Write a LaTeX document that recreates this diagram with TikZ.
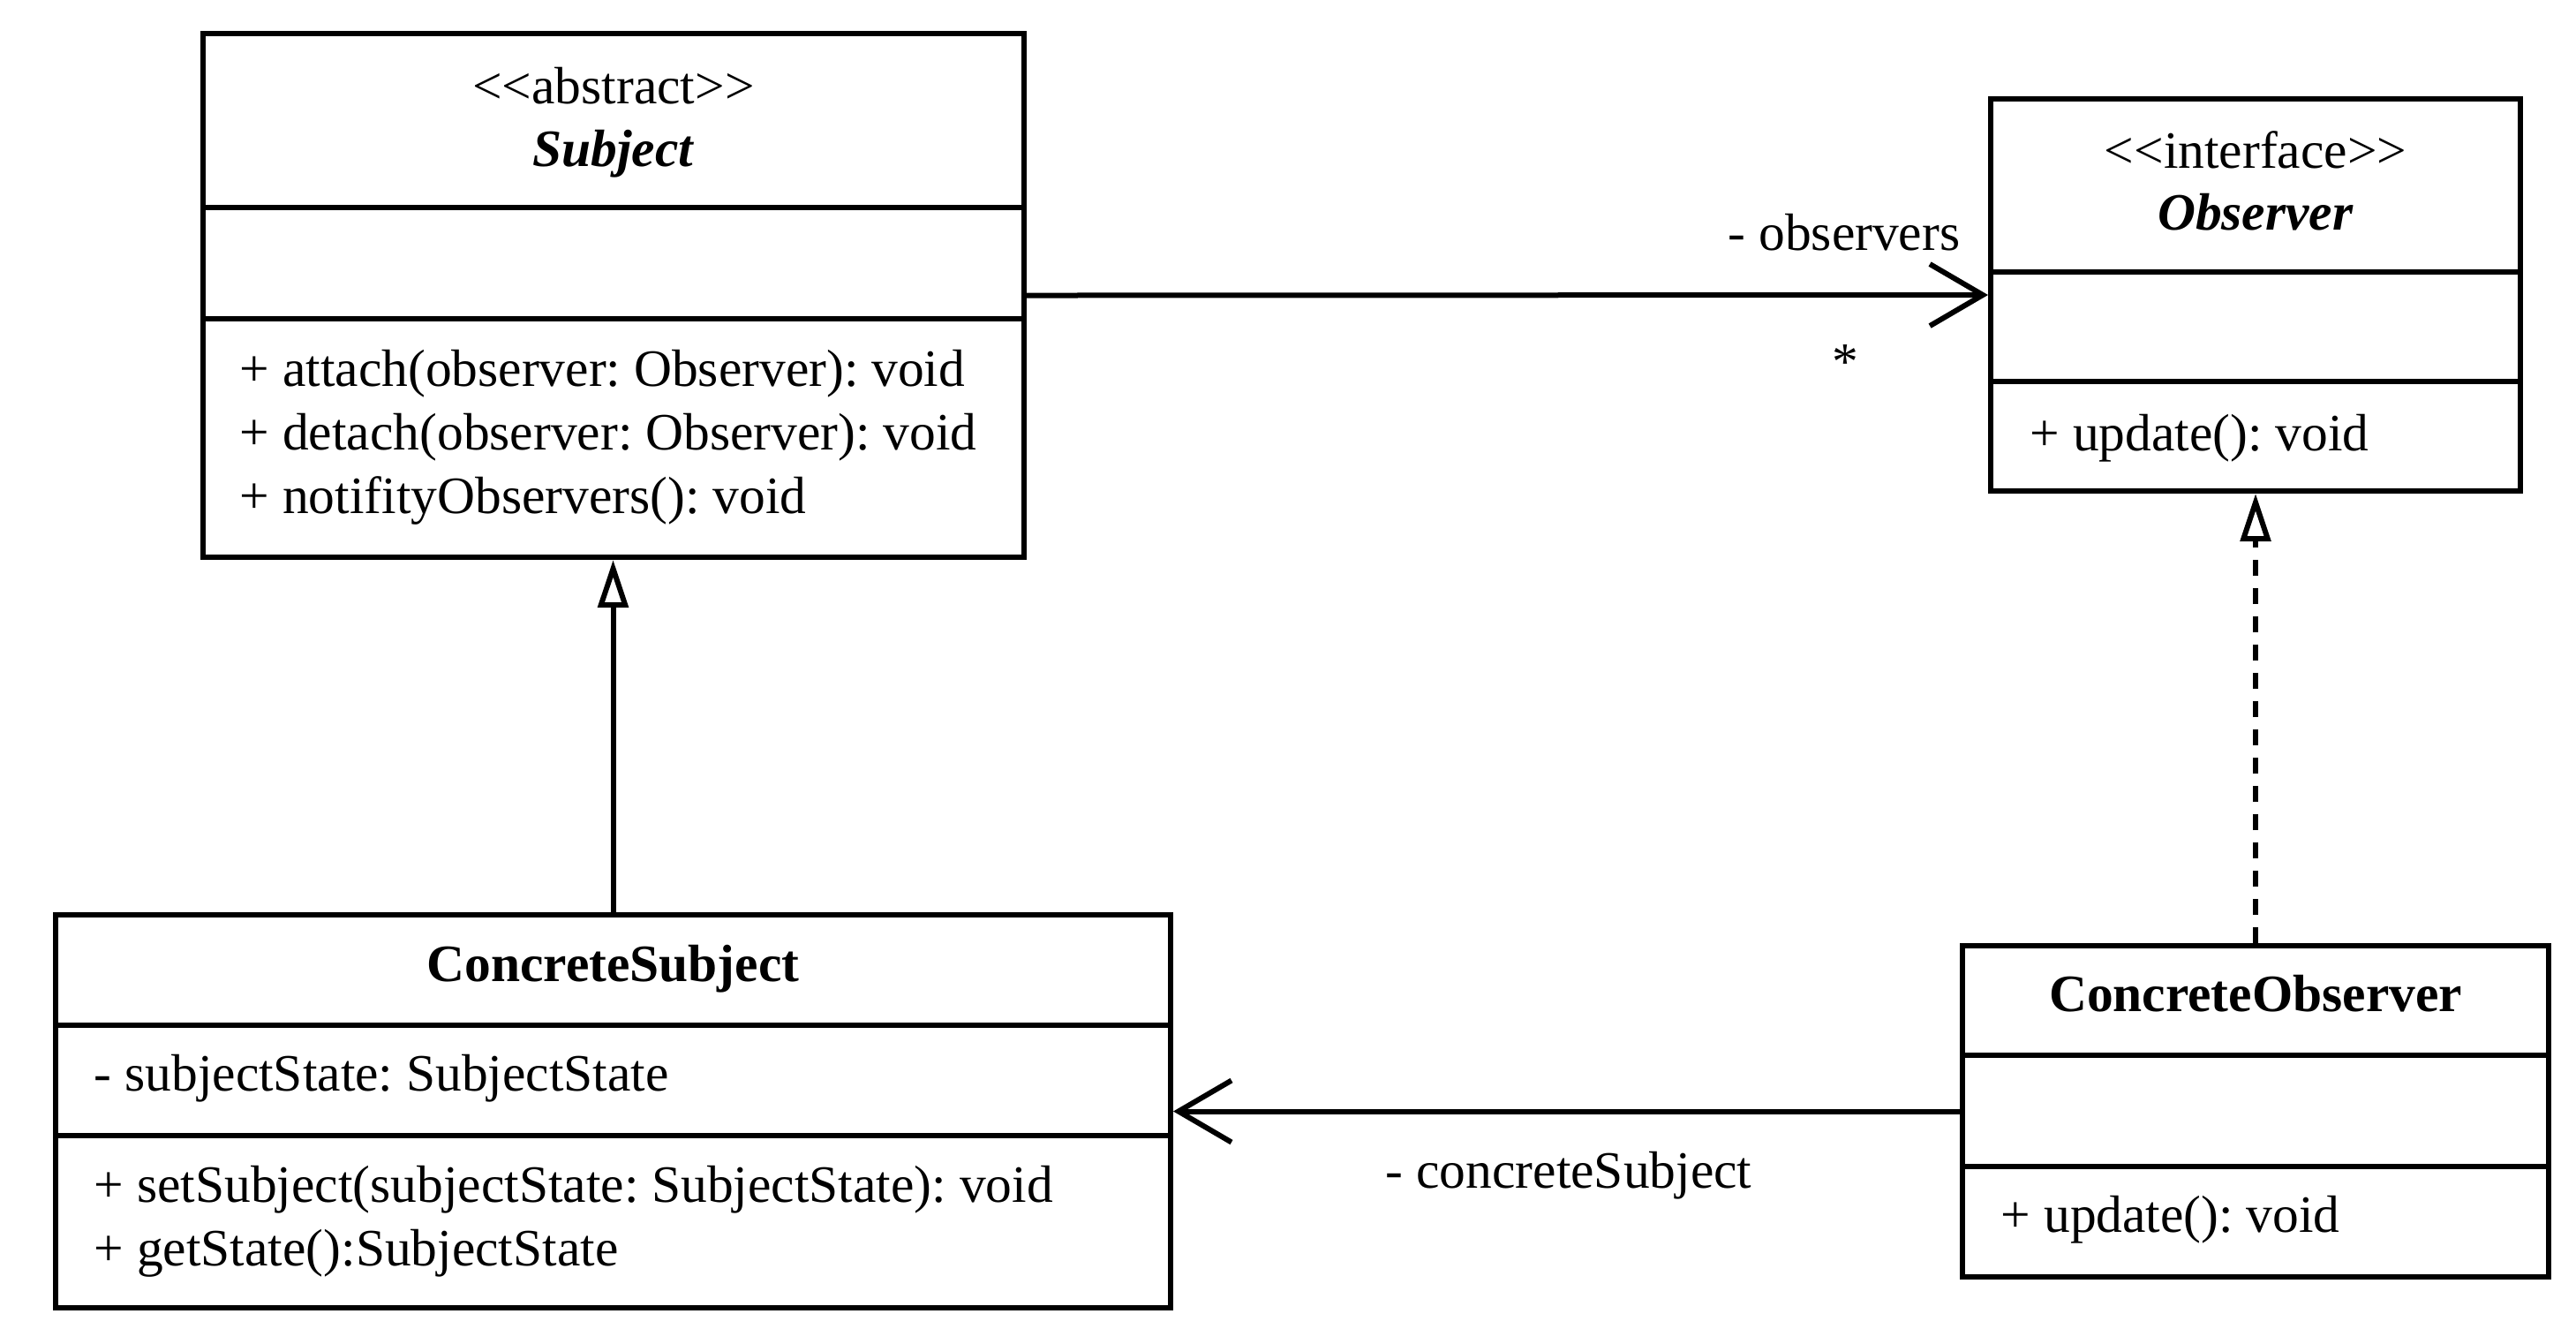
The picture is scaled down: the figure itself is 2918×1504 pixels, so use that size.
\documentclass[tikz,border=0pt]{standalone}
\usepackage{fontspec}
\setmainfont{Liberation Serif}[Ligatures=TeXOff]
\usetikzlibrary{arrows.meta,fit}

\begin{document}
\frenchspacing
\begin{tikzpicture}[x=0.25pt,y=-0.25pt,
  umlbox/.style={draw, line width=1.5pt, inner sep=0pt, fit={#1}},
  rule/.style={line width=1.5pt},
  txt/.style={inner sep=0pt, font=\fontsize{14.87pt}{18pt}\selectfont},
  assoc/.style={line width=1.5pt, -{Straight Barb[length=15pt,width=17.5pt]}},
  inherit/.style={line width=1.5pt, -{Triangle[open,length=13.5pt,width=8.5pt]}},
  realize/.style={inherit, dash pattern=on 4.5pt off 3.5pt},
]
% canvas
\fill[white] (0,0) rectangle (2918,1504);
\useasboundingbox (0,0) rectangle (2918,1504);

% ---- Subject (abstract) ----
\node[umlbox={(230,38) (1160,631)}] (subject) {};
\draw[rule] (230,235) -- (1160,235);
\draw[rule] (230,361) -- (1160,361);
\node[txt, anchor=base] (subjStereo) at (695,117) {<<abstract>>};
\node[txt, anchor=base] (subjName) at (695,188) {\textbf{\textit{Subject}}};
\node[txt, anchor=base west] (subjOp1) at (271,437) {+ attach(observer: Observer): void};
\node[txt, anchor=base west] (subjOp2) at (271,509) {+ detach(observer: Observer): void};
\node[txt, anchor=base west] (subjOp3) at (271,581) {+ notifityObservers(): void};

% ---- Observer (interface) ----
\node[umlbox={(2255,112) (2855,556)}] (observer) {};
\draw[rule] (2255,308) -- (2855,308);
\draw[rule] (2255,432) -- (2855,432);
\node[txt, anchor=base] (obsStereo) at (2555,190) {<<interface>>};
\node[txt, anchor=base] (obsName) at (2555,260) {\textbf{\textit{Observer}}};
\node[txt, anchor=base west] (obsOp1) at (2299,510) {+ update(): void};

% ---- ConcreteSubject ----
\node[umlbox={(63,1036) (1326,1481)}] (csubject) {};
\draw[rule] (63,1161) -- (1326,1161);
\draw[rule] (63,1286) -- (1326,1286);
\node[txt, anchor=base] (csName) at (694.5,1111) {\textbf{ConcreteSubject}};
\node[txt, anchor=base west] (csAttr) at (106,1235) {- subjectState: SubjectState};
\node[txt, anchor=base west] (csOp1) at (106,1361) {+ setSubject(subjectState: SubjectState): void};
\node[txt, anchor=base west] (csOp2) at (106,1433) {+ getState():SubjectState};

% ---- ConcreteObserver ----
\node[umlbox={(2223,1071) (2887,1446)}] (cobserver) {};
\draw[rule] (2223,1195) -- (2887,1195);
\draw[rule] (2223,1321) -- (2887,1321);
\node[txt, anchor=base] (coName) at (2555,1145) {\textbf{ConcreteObserver}};
\node[txt, anchor=base west] (coOp1) at (2266,1395) {+ update(): void};

% ---- relations ----
\draw[assoc] (subject.east) -- (observer.west);
\draw[assoc] (cobserver.west) -- (csubject.east);
\draw[inherit] (csubject.north) -- (csubject.north |- subject.south);
\draw[realize] (cobserver.north) -- (observer.south);

% ---- role names and multiplicity ----
\node[txt, anchor=base] (lblObservers) at (2089,283) {- observers};
\node[txt, anchor=base] (lblMany) at (2090,429) {*};
\node[txt, anchor=base west] (lblConcrete) at (1569,1345) {- concreteSubject};
\end{tikzpicture}
\end{document}
